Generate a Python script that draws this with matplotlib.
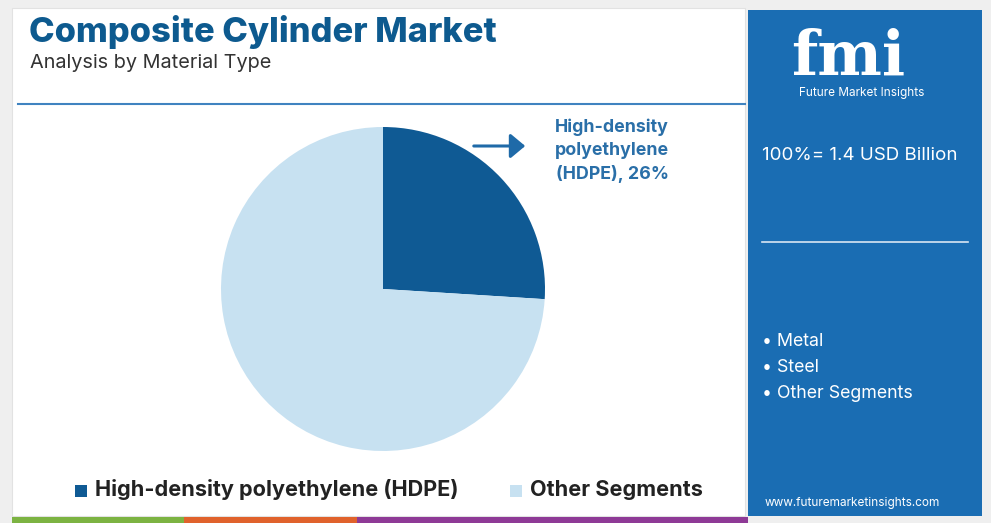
import matplotlib
matplotlib.use("Agg")
import matplotlib.pyplot as plt
from matplotlib.patches import Rectangle, FancyArrowPatch

categories = ["High-density polyethylene (HDPE)", "Other Segments"]
shares = [26, 74]
colors = ["#0f5a94", "#c7e1f1"]
panel_bullets = ["Metal", "Steel", "Other Segments"]
total_label = "100%= 1.4 USD Billion"

W, H = 991, 523
fig = plt.figure(figsize=(W / 100, H / 100), dpi=100)
fig.patch.set_facecolor("#efefef")
FONT = "Inter"

def fx(x):
    return x / W

def fy(y):
    return 1 - y / H

# white card
fig.add_artist(Rectangle((fx(12), fy(516)), fx(733), (508) / H, transform=fig.transFigure,
                         facecolor="white", edgecolor="#e2e2e2", lw=0.8, zorder=0))
# right blue panel
fig.add_artist(Rectangle((fx(748), fy(516)), fx(234), (506) / H, transform=fig.transFigure,
                         facecolor="#1a6db3", edgecolor="none", zorder=1))
# bottom strip
for x0, x1, c in [(12, 184, "#7cb342"), (184, 357, "#e0622c"), (357, 748, "#8e3a96")]:
    fig.add_artist(Rectangle((fx(x0), 0), fx(x1 - x0), 6 / H, transform=fig.transFigure,
                             facecolor=c, edgecolor="none", zorder=2))

# title
fig.text(fx(29), fy(32), "Composite Cylinder Market", fontsize=24.8, fontweight="heavy",
         color="#0d5a8f", family=FONT, va="center", ha="left")
fig.text(fx(30), fy(63), "Analysis by Material Type", fontsize=14.3, color="#333333",
         family=FONT, va="center", ha="left")
fig.add_artist(plt.Line2D([fx(18), fx(745)], [fy(104), fy(104)], transform=fig.transFigure,
                          color="#3f83c0", lw=1.5))

# pie
r = 162
cx, cy = 383, 289
ax = fig.add_axes([fx(cx - r), fy(cy + r), 2 * r / W, 2 * r / H])
ax.pie(shares, colors=colors, startangle=90, counterclock=False,
       wedgeprops=dict(linewidth=0))
ax.set_aspect("equal")
ax.set_xlim(-1, 1)
ax.set_ylim(-1, 1)
ax.axis("off")

# annotation
fig.add_artist(FancyArrowPatch((fx(471), fy(146)), (fx(528), fy(146)), transform=fig.transFigure,
                               arrowstyle="-|>,head_length=6,head_width=5", color="#1f6aa8",
                               lw=2.2, mutation_scale=1.5))
fig.text(fx(612), fy(151), f"High-density\npolyethylene\n(HDPE), {shares[0]}%", fontsize=12.8,
         fontweight="bold", color="#2a6fa8", family=FONT, ha="center", va="center",
         linespacing=1.45)

# legend
lx = [75, 510]
for i, (lab, c) in enumerate(zip(categories, colors)):
    fig.add_artist(Rectangle((fx(lx[i]), fy(497)), fx(12), 12 / H, transform=fig.transFigure,
                             facecolor=c, edgecolor="none"))
    fig.text(fx(lx[i] + 20), fy(490), lab, fontsize=15.6, fontweight="bold", color="#222222",
             family=FONT, ha="left", va="center")

# panel content
fig.text(fx(848), fy(58), "fmi", fontsize=44, fontweight="bold", color="white",
         family="DejaVu Serif", ha="center", va="center")
fig.text(fx(862), fy(93), "Future Market Insights", fontsize=8.5, color="white",
         family=FONT, ha="center", va="center")
fig.text(fx(762), fy(155), total_label, fontsize=13.5, color="white", family=FONT,
         ha="left", va="center")
fig.add_artist(plt.Line2D([fx(762), fx(968)], [fy(242), fy(242)], transform=fig.transFigure,
                          color="#d8e6f3", lw=1.2))
for i, b in enumerate(panel_bullets):
    fig.text(fx(762), fy(341 + 26 * i), "\u2022 " + b, fontsize=12.8, color="white",
             family=FONT, ha="left", va="center")
fig.text(fx(852), fy(503), "www.futuremarketinsights.com", fontsize=8.5, color="white",
         family=FONT, ha="center", va="center")

fig.savefig("out.png", dpi=100, facecolor=fig.get_facecolor())
